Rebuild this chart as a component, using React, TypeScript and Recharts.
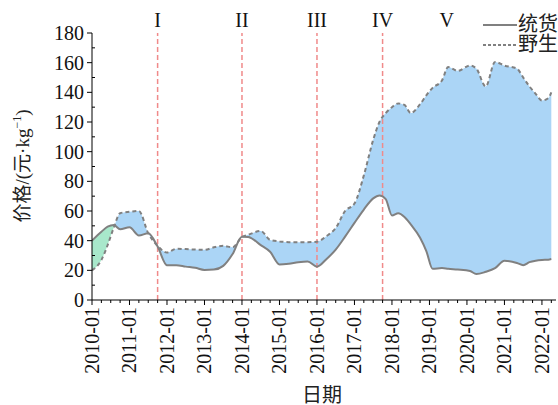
import { ComposedChart, Area, Line, XAxis, YAxis, ReferenceLine, Label } from 'recharts';

// months since 2010-01
const months = [0, 3, 5, 7, 9, 12, 15, 18, 21, 24, 27, 30, 33, 36, 39, 42, 45, 48, 50, 54, 57, 60, 63, 66, 69, 72, 75, 78, 81, 84, 87, 90, 92, 94, 96, 98, 100, 102, 105, 107, 109, 112, 114, 117, 121, 123, 126, 129, 132, 136, 138, 140, 142, 144, 146, 147];
// 统货
const tong = [40, 46, 49.4, 50.5, 47.7, 49, 43.5, 45, 36, 23.5, 23.5, 22.5, 21.7, 20.3, 20.5, 23, 31, 42.7, 42.5, 37, 32.5, 24, 24.5, 25.5, 26, 22.5, 27.5, 34, 42.7, 52, 61, 68.5, 70.5, 68, 57, 58.5, 56, 51, 42, 33, 21, 21.5, 21, 20.5, 19.5, 17.5, 19, 21.5, 26.5, 25, 23.5, 25.5, 26.5, 27, 27.2, 27.6];
// 野生
const wild = [20, 27, 37, 49, 58.5, 59.5, 60, 45, 36.5, 32, 34.5, 34.3, 34, 33.8, 35.5, 36.5, 35.5, 42.5, 44, 46.5, 40.5, 39.5, 39, 39, 39, 39.3, 43, 48.5, 60, 65, 84, 108, 120, 126, 130, 132.5, 131.5, 126, 132, 138, 143, 148, 157, 154.5, 158, 156, 144, 160.5, 158, 156, 150, 144, 139, 134.5, 136, 140];

const stages = [
  { m: 21, label: 'I', line: true },
  { m: 48, label: 'II', line: true },
  { m: 72, label: 'III', line: true },
  { m: 93, label: 'IV', line: true },
  { m: 113.5, label: 'V', line: false },
];
const crossAt = 7.5; // 统货 above 野生 until here

const data = months.map((m, i) => ({ m, tong: tong[i], wild: wild[i], band: [tong[i], wild[i]] }));

const FONT = "'Liberation Serif', 'Noto Sans CJK SC', serif";
const minorX = Array.from({ length: 50 }, (_, i) => i * 3);
const minorY = Array.from({ length: 19 }, (_, i) => i * 10);

const XTick = (props: any) => {
  const { x, y, payload } = props;
  const major = payload.value % 12 === 0;
  const label = `${2010 + payload.value / 12}-01`;
  return (
    <g>
      <line x1={x} y1={y} x2={x} y2={y + (major ? 5 : 3)} stroke="#000" />
      {major && (
        <text x={x} y={y + 7} transform={`rotate(-90, ${x}, ${y + 7})`} textAnchor="end" dy="0.35em"
          fontSize={20} fontFamily={FONT} fill="#111">{label}</text>
      )}
    </g>
  );
};

const YTick = (props: any) => {
  const { x, y, payload } = props;
  const major = payload.value % 20 === 0;
  return (
    <g>
      {major
        ? <line x1={x - 5} y1={y} x2={x} y2={y} stroke="#000" />
        : <line x1={x} y1={y} x2={x + 3} y2={y} stroke="#000" />}
      {major && (
        <text x={x - 8} y={y} textAnchor="end" dy="0.35em" fontSize={20} fontFamily={FONT} fill="#111">{payload.value}</text>
      )}
    </g>
  );
};

const YTitle = () => (
  <text x={22} y={166} transform="rotate(-90, 22, 166)" textAnchor="middle" dy="0.35em" fontSize={19} fontFamily={FONT} fill="#222">
    价格/(元·kg<tspan dy={-8} fontSize={12}>−1</tspan><tspan dy={8}>)</tspan>
  </text>
);

const XTitle = () => (
  <text x={322} y={395} textAnchor="middle" dy="0.35em" fontSize={20} fontFamily={FONT} fill="#222">日期</text>
);

const Legend = () => (
  <div style={{ position: 'absolute', left: 480, top: 14, fontFamily: FONT, fontSize: 20, color: '#222', lineHeight: '20px' }}>
    <div style={{ display: 'flex', alignItems: 'center' }}>
      <svg width={38} height={20}><line x1={3} y1={11} x2={37} y2={11} stroke="#808080" strokeWidth={2} /></svg>
      <span>统货</span>
    </div>
    <div style={{ display: 'flex', alignItems: 'center' }}>
      <svg width={38} height={20}><line x1={3} y1={11} x2={37} y2={11} stroke="#808080" strokeWidth={2} strokeDasharray="3 2" /></svg>
      <span>野生</span>
    </div>
  </div>
);

export default function App() {
  const last = months[months.length - 1];
  const off = crossAt / last;
  return (
    <div style={{ position: 'absolute', left: 0, top: 0, width: 558, height: 405, background: '#fff' }}>
      <ComposedChart width={558} height={405} data={data} margin={{ top: 33, right: 2, left: 0, bottom: 0 }}>
        <defs>
          <linearGradient id="bandFill" x1="0" y1="0" x2="1" y2="0">
            <stop offset={0} stopColor="#a8e8cb" />
            <stop offset={off} stopColor="#a8e8cb" />
            <stop offset={off} stopColor="#abd5f6" />
            <stop offset={1} stopColor="#abd5f6" />
          </linearGradient>
        </defs>
        <XAxis dataKey="m" type="number" domain={[0, 148.5]} ticks={minorX} interval={0} height={105}
          tick={<XTick />} tickLine={false} tickSize={0} tickMargin={0} axisLine={{ stroke: '#000' }} allowDataOverflow>
          <Label content={<XTitle />} />
        </XAxis>
        <YAxis type="number" domain={[0, 180]} ticks={minorY} interval={0} width={92}
          tick={<YTick />} tickLine={false} tickSize={0} tickMargin={0} axisLine={{ stroke: '#000' }}>
          <Label content={<YTitle />} />
        </YAxis>
        <Area type="monotone" dataKey="band" stroke="none" fill="url(#bandFill)" fillOpacity={1} isAnimationActive={false} />
        {stages.map((s) => (
          <ReferenceLine key={s.label} x={s.m} stroke={s.line ? '#f08a8a' : 'none'} strokeWidth={1.5} strokeDasharray="5 3"
            label={{ value: s.label, position: 'top', fontSize: 20, fontFamily: FONT, fill: '#111', offset: 6 }} />
        ))}
        <Line type="monotone" dataKey="tong" stroke="#808080" strokeWidth={2} dot={false} isAnimationActive={false} />
        <Line type="monotone" dataKey="wild" stroke="#808080" strokeWidth={2} strokeDasharray="4 3" dot={false} isAnimationActive={false} />
      </ComposedChart>
      <Legend />
    </div>
  );
}
